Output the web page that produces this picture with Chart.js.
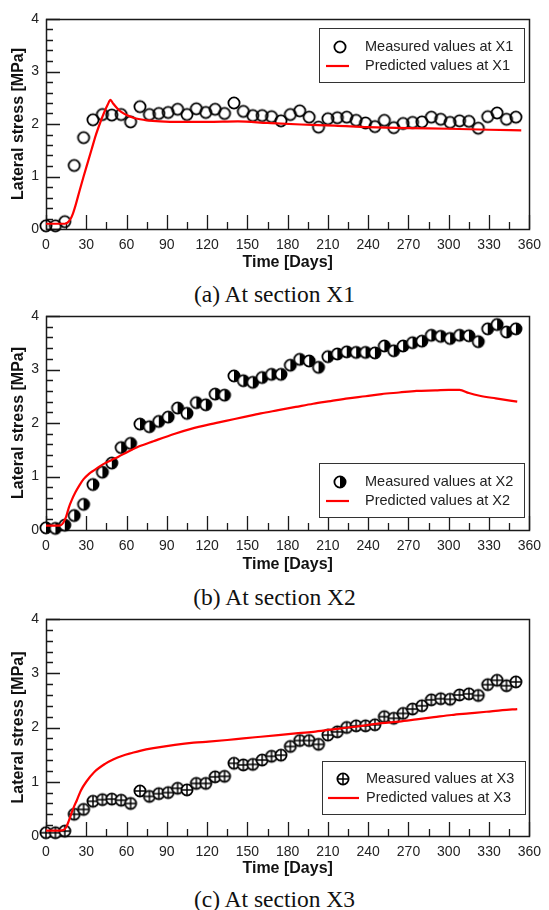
<!DOCTYPE html>
<html><head><meta charset="utf-8">
<script src="https://cdn.jsdelivr.net/npm/chart.js@4.4.0/dist/chart.umd.min.js"></script>
<style>
html,body{margin:0;padding:0;background:#fff;width:549px;height:910px;overflow:hidden;}
canvas{position:absolute;left:0;}
.cap{position:absolute;left:0;width:549px;text-align:center;font-family:"Liberation Serif","Times New Roman",serif;font-size:23.5px;color:#111;line-height:24px;}
</style></head><body>
<canvas id="c1" width="549" height="275" style="top:0px"></canvas>
<div class="cap" style="top:282px">(a) At section X1</div>
<canvas id="c2" width="549" height="275" style="top:300px"></canvas>
<div class="cap" style="top:585px">(b) At section X2</div>
<canvas id="c3" width="549" height="280" style="top:600px"></canvas>
<div class="cap" style="top:887px">(c) At section X3</div>
<script>
// ---------- DATA ----------
const days = [0,7,14,21,28,35,42,49,56,63,70,77,84,91,98,105,112,119,126,133,140,147,154,161,168,175,182,189,196,203,210,217,224,231,238,245,252,259,266,273,280,287,294,301,308,315,322,329,336,343,350];

const measuredX1 = [0.06,0.06,0.14,1.21,1.74,2.08,2.18,2.17,2.18,2.04,2.33,2.18,2.20,2.22,2.28,2.18,2.29,2.22,2.28,2.20,2.40,2.24,2.16,2.16,2.14,2.06,2.18,2.25,2.13,1.94,2.10,2.12,2.13,2.07,2.02,1.95,2.07,1.93,2.01,2.03,2.04,2.13,2.09,2.03,2.06,2.05,1.92,2.14,2.21,2.09,2.13];
const predDaysX1 = [0,10,14,16,18,20,22,25,28,31,34,37,40,43,46,48,50,53,56,60,65,70,75,85,100,120,143,165,190,215,240,270,300,330,354];
const predictedX1 = [0.1,0.1,0.1,0.12,0.18,0.29,0.45,0.73,1.0,1.26,1.52,1.78,2.0,2.2,2.37,2.46,2.39,2.3,2.23,2.17,2.12,2.09,2.07,2.05,2.04,2.04,2.05,2.02,1.99,1.97,1.94,1.92,1.91,1.89,1.88];

const measuredX2 = [0.04,0.03,0.09,0.27,0.48,0.85,1.08,1.25,1.54,1.62,1.98,1.93,2.03,2.11,2.28,2.18,2.38,2.34,2.54,2.52,2.88,2.79,2.76,2.85,2.91,2.91,3.08,3.19,3.16,3.04,3.24,3.29,3.33,3.32,3.32,3.31,3.44,3.35,3.44,3.50,3.53,3.64,3.62,3.58,3.64,3.63,3.52,3.76,3.84,3.70,3.76];
const predDaysX2 = [0,8,11,13,15,17,19,22,25,28,32,36,40,44,49,54,60,64,69,80,96,108,121,134,147,160,173,186,199,212,225,238,250,263,276,290,300,308,315,323,335,351];
const predictedX2 = [0.08,0.08,0.09,0.14,0.25,0.42,0.55,0.71,0.84,0.95,1.05,1.12,1.19,1.25,1.31,1.37,1.45,1.50,1.56,1.66,1.80,1.89,1.97,2.04,2.11,2.18,2.24,2.30,2.36,2.41,2.46,2.50,2.54,2.57,2.60,2.61,2.62,2.62,2.56,2.51,2.46,2.40];

const measuredX3 = [0.06,0.06,0.09,0.40,0.49,0.64,0.67,0.68,0.66,0.60,0.83,0.73,0.78,0.80,0.88,0.85,0.97,0.97,1.09,1.10,1.34,1.31,1.32,1.40,1.47,1.49,1.65,1.76,1.76,1.69,1.86,1.92,2.00,2.03,2.03,2.05,2.20,2.17,2.26,2.34,2.40,2.51,2.53,2.52,2.60,2.62,2.59,2.79,2.87,2.77,2.84];
const predDaysX3 = [0,5,10,13,15,17,19,21,23,26,30,36,44,50,57,64,70,80,96,110,121,135,147,160,173,186,199,212,225,238,250,263,276,289,302,315,328,340,351];
const predictedX3 = [0.1,0.1,0.1,0.11,0.16,0.28,0.42,0.55,0.66,0.84,1.0,1.18,1.33,1.41,1.48,1.53,1.57,1.62,1.68,1.72,1.74,1.77,1.80,1.83,1.86,1.89,1.92,1.96,2.00,2.04,2.08,2.11,2.15,2.19,2.23,2.26,2.29,2.32,2.34];

const xTickLabels = ['0','30','60','90','120','150','180','210','240','270','300','330','360'];
const yTickLabels = ['0','1','2','3','4'];

// ---------- STYLE ----------
const FONT = '"Liberation Sans", Arial, Helvetica, sans-serif';
const RED = '#ff0000';
const INK = '#1a1a1a';

function makeMarker(kind){
  const c = document.createElement('canvas');
  c.width = 16; c.height = 16;
  const g = c.getContext('2d');
  const cx = 8, cy = 8, r = 5.6;
  g.lineWidth = 1.8; g.strokeStyle = '#000';
  if (kind !== 'open') {
    g.fillStyle = '#fff';
    g.beginPath(); g.arc(cx,cy,r,0,Math.PI*2); g.fill();
  }
  if (kind === 'half') {
    g.fillStyle = '#000';
    g.beginPath(); g.moveTo(cx,cy-r); g.arc(cx,cy,r,-Math.PI/2,Math.PI/2); g.closePath(); g.fill();
  }
  g.beginPath(); g.arc(cx,cy,r,0,Math.PI*2); g.stroke();
  if (kind === 'plus') {
    g.lineWidth = 1.5;
    g.beginPath(); g.moveTo(cx-r,cy); g.lineTo(cx+r,cy); g.moveTo(cx,cy-r); g.lineTo(cx,cy+r); g.stroke();
  }
  return c;
}

const deco = {
  id: 'deco',
  beforeDatasetsDraw(chart){
    const {ctx, chartArea:a, scales:{x,y}} = chart;
    ctx.save();
    ctx.strokeStyle = INK; ctx.lineWidth = 1.3;
    ctx.beginPath();
    for (let i = 0; i <= 24; i++) {
      const v = i*15, px = Math.round(x.getPixelForValue(v))+0.5;
      const len = (i % 2 === 0) ? 14 : 7;
      ctx.moveTo(px, a.bottom); ctx.lineTo(px, a.bottom - len);
    }
    for (let i = 0; i <= 20; i++) {
      const v = i*0.2, py = Math.round(y.getPixelForValue(v))+0.5;
      const len = (i % 5 === 0) ? 14 : 7;
      ctx.moveTo(a.left, py); ctx.lineTo(a.left + len, py);
    }
    ctx.stroke();
    ctx.lineWidth = 1.5;
    ctx.strokeRect(Math.round(a.left)+0.5, Math.round(a.top)+0.5, Math.round(a.right-a.left), Math.round(a.bottom-a.top));
    ctx.restore();
  },
  afterDraw(chart, args, opts){
    const ctx = chart.ctx, L = opts.box;
    const ds = chart.data.datasets;
    const meas = ds[1], pred = ds[0];
    ctx.save();
    ctx.fillStyle = '#fff';
    ctx.fillRect(L.x, L.y, L.w, L.h);
    ctx.strokeStyle = '#333'; ctx.lineWidth = 1;
    ctx.strokeRect(L.x+0.5, L.y+0.5, L.w, L.h);
    ctx.drawImage(meas.pointStyle, L.mx - 8, L.y1 - 8);
    ctx.strokeStyle = RED; ctx.lineWidth = 2.2;
    ctx.beginPath(); ctx.moveTo(L.l1, L.y2); ctx.lineTo(L.l2, L.y2); ctx.stroke();
    ctx.fillStyle = '#222'; ctx.font = '14.5px ' + FONT; ctx.textBaseline = 'middle'; ctx.textAlign = 'left';
    ctx.fillText(meas.label, L.tx, L.y1);
    ctx.fillText(pred.label, L.tx, L.y2);
    ctx.restore();
  }
};

function makeChart(id, cfg){
  const pts = (xs, ys) => xs.map((d,i) => ({x:d, y:ys[i]}));
  return new Chart(document.getElementById(id), {
    type: 'scatter',
    data: { datasets: [
      { label: cfg.predLabel, data: pts(cfg.predDays, cfg.pred), showLine: true, borderColor: RED, borderWidth: 2.2,
        pointRadius: 0, cubicInterpolationMode: 'monotone', clip: false, order: 0 },
      { label: cfg.measLabel, data: pts(days, cfg.meas), showLine: false, pointStyle: cfg.marker,
        pointRadius: 6, clip: false, order: 1 }
    ]},
    options: {
      responsive: false, animation: false, devicePixelRatio: 1,
      events: [],
      layout: { padding: { top: cfg.padTop, right: 16, left: 0, bottom: 0 } },
      plugins: { legend: { display: false }, tooltip: { enabled: false }, deco: { box: cfg.box } },
      scales: {
        x: { type: 'linear', min: 0, max: 360,
          grid: { display: false, drawTicks: false }, border: { display: false },
          ticks: { stepSize: 30, padding: 8, color: '#222', maxRotation: 0, autoSkip: false,
            font: { family: FONT, size: 14 },
            callback: (v) => xTickLabels[v/30] },
          title: { display: true, text: 'Time [Days]', color: '#111',
            font: { family: FONT, size: 16, weight: 'bold' }, padding: { top: 0, bottom: cfg.titlePadB } },
          afterFit(s){ s.height = cfg.xAxisH; } },
        y: { min: 0, max: 4,
          grid: { display: false, drawTicks: false }, border: { display: false },
          ticks: { stepSize: 1, padding: 7, color: '#222', font: { family: FONT, size: 14 },
            callback: (v) => yTickLabels[v] },
          title: { display: true, text: 'Lateral stress [MPa]', color: '#111',
            font: { family: FONT, size: 16, weight: 'bold' }, padding: { top: 9.4, bottom: 0 } },
          afterFit(s){ s.width = 46; } }
      }
    },
    plugins: [deco]
  });
}

makeChart('c1', { meas: measuredX1, predDays: predDaysX1, pred: predictedX1, marker: makeMarker('open'),
  measLabel: 'Measured values at X1', predLabel: 'Predicted values at X1',
  padTop: 19, xAxisH: 46, titlePadB: 2.4,
  box: { x: 319, y: 28, w: 205, h: 54, mx: 340, y1: 47, y2: 66, l1: 326, l2: 349, tx: 365 } });

makeChart('c2', { meas: measuredX2, predDays: predDaysX2, pred: predictedX2, marker: makeMarker('half'),
  measLabel: 'Measured values at X2', predLabel: 'Predicted values at X2',
  padTop: 16, xAxisH: 45, titlePadB: 0.4,
  box: { x: 319, y: 163, w: 205, h: 54, mx: 340, y1: 182, y2: 201, l1: 326, l2: 349, tx: 365 } });

makeChart('c3', { meas: measuredX3, predDays: predDaysX3, pred: predictedX3, marker: makeMarker('plus'),
  measLabel: 'Measured values at X3', predLabel: 'Predicted values at X3',
  padTop: 19, xAxisH: 44, titlePadB: 1.4,
  box: { x: 322, y: 161, w: 203, h: 53, mx: 343, y1: 179, y2: 198, l1: 328, l2: 359, tx: 366 } });
</script>
</body></html>
